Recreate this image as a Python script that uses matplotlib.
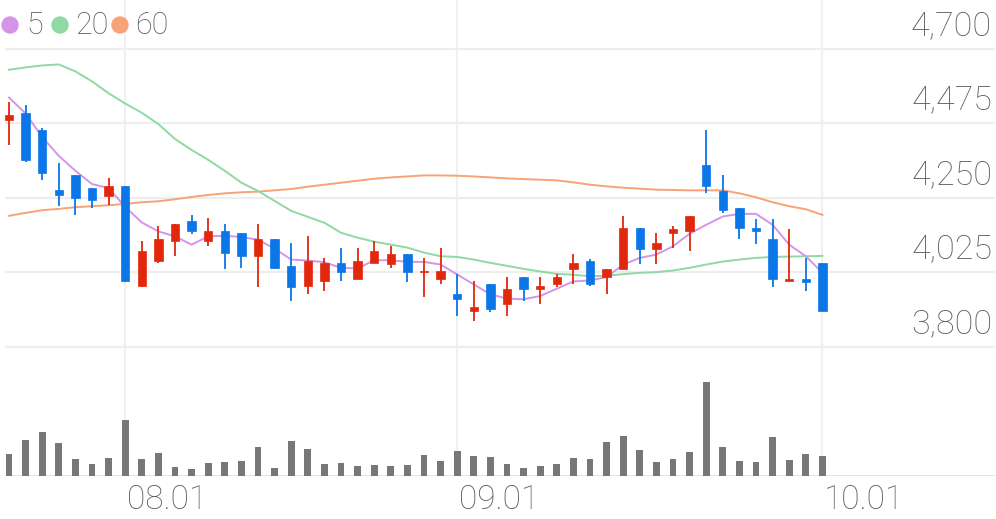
import matplotlib
matplotlib.use("Agg")
import matplotlib.pyplot as plt
from matplotlib.patches import Ellipse
import numpy as np

# ---------------- data ----------------
opens  = [4485, 4505, 4455, 4275, 4320, 4280, 4255, 4285, 3985, 4060,
          4120, 4180, 4120, 4150, 4145, 4075, 4125, 4045, 3985, 4000,
          4055, 4005, 4055, 4050, 4080, 4025, 4005, 3960, 3910, 3990,
          3930, 4010, 3975, 3990, 4035, 4060, 4010, 4035, 4160, 4095,
          4145, 4150, 4350, 4270, 4220, 4160, 4125, 4000, 4005, 4055]
highs  = [4540, 4530, 4460, 4355, 4320, 4280, 4310, 4285, 4120, 4165,
          4170, 4200, 4190, 4170, 4145, 4170, 4125, 4115, 4135, 4070,
          4100, 4100, 4120, 4105, 4080, 4070, 4100, 4020, 4000, 3990,
          4010, 4010, 4010, 4020, 4080, 4065, 4035, 4195, 4160, 4145,
          4165, 4195, 4455, 4320, 4220, 4185, 4185, 4155, 4070, 4055]
lows   = [4410, 4360, 4305, 4225, 4200, 4220, 4230, 3995, 3980, 4055,
          4075, 4140, 4105, 4035, 4040, 3980, 4035, 3940, 3960, 3970,
          4000, 4005, 4055, 4040, 3995, 3950, 3990, 3895, 3880, 3905,
          3895, 3940, 3930, 3980, 3990, 3985, 3960, 4035, 4050, 4050,
          4100, 4090, 4265, 4205, 4125, 4110, 3980, 4000, 3970, 3910]
closes = [4500, 4365, 4325, 4260, 4250, 4245, 4285, 4000, 4090, 4125,
          4170, 4150, 4150, 4085, 4075, 4125, 4040, 3980, 4060, 4055,
          4025, 4060, 4090, 4080, 4025, 4030, 4030, 3945, 3920, 3915,
          3975, 3975, 3985, 4010, 4055, 3990, 4035, 4160, 4095, 4115,
          4155, 4195, 4285, 4215, 4160, 4150, 4005, 4005, 3995, 3910]
volumes = [65, 107, 132, 100, 51, 37, 54, 167, 50, 70,
           26, 21, 39, 42, 44, 87, 24, 106, 81, 35,
           38, 31, 33, 30, 34, 64, 45, 76, 60, 58,
           35, 24, 29, 35, 55, 52, 103, 120, 79, 43,
           50, 72, 281, 87, 44, 42, 117, 49, 66, 60]
ma5  = [4553, 4505, 4434, 4377, 4332, 4292, 4280, 4223, 4176, 4149,
        4134, 4109, 4134, 4136, 4132, 4124, 4097, 4064, 4061, 4056,
        4039, 4037, 4062, 4062, 4057, 4057, 4049, 4019, 3989, 3959,
        3946, 3944, 3954, 3976, 3998, 4001, 4011, 4049, 4069, 4079,
        4104, 4142, 4169, 4194, 4202, 4202, 4169, 4109, 4074, 4024]
ma20 = [4637, 4644, 4650, 4653, 4632, 4602, 4566, 4535, 4507, 4473,
        4428, 4395, 4365, 4332, 4296, 4271, 4241, 4211, 4193, 4175,
        4145, 4130, 4118, 4109, 4100, 4085, 4074, 4072, 4064, 4054,
        4045, 4036, 4028, 4021, 4018, 4014, 4015, 4020, 4024, 4026,
        4031, 4039, 4049, 4058, 4064, 4069, 4072, 4073, 4074, 4075]
ma60 = [4196, 4205, 4213, 4217, 4222, 4225, 4228, 4232, 4237, 4240,
        4246, 4253, 4259, 4264, 4267, 4269, 4273, 4277, 4284, 4290,
        4296, 4302, 4308, 4312, 4315, 4318, 4318, 4317, 4315, 4312,
        4309, 4307, 4305, 4303, 4297, 4290, 4285, 4281, 4278, 4275,
        4274, 4273, 4273, 4273, 4264, 4252, 4237, 4225, 4216, 4199]
price_ticks = [3800, 4025, 4250, 4475, 4700]
date_labels = ["08.01", "09.01", "10.01"]
date_index = [7, 27, 49]
legend_labels = ["5", "20", "60"]

# ---------------- style ----------------
RED = "#e2280c"
BLUE = "#0b76e8"
C5, C20, C60 = "#d495e8", "#8fd9a2", "#f7a377"
GRID = "#eeeeee"
TXT = "#5c5c5c"
FONT = ["Roboto", "DejaVu Sans"]
WEIGHT = "light"

W, H = 996, 519
fig = plt.figure(figsize=(W / 100, H / 100), dpi=100)

def fbox(l, t, r, b):
    return [l / W, 1 - b / H, (r - l) / W, (b - t) / H]

x = np.arange(len(closes))
xmin, xmax = -0.241, -0.241 + 990 / 16.6

# background axes for vertical grid lines
bg = fig.add_axes(fbox(5, 0, 995, 476), zorder=0)
bg.set_xlim(xmin, xmax)
bg.set_ylim(0, 1)
bg.axis("off")
for di in date_index:
    bg.axvline(di, color="#f0f0f0", lw=1.5)

# price axes
pxw = 0.33267  # pixels per won
ax = fig.add_axes(fbox(5, 0, 995, 350), zorder=2)
ax.patch.set_alpha(0)
ax.set_xlim(xmin, xmax)
ax.set_ylim(3800 - 3 / pxw, 3800 + 348.5 / pxw)
for s in ax.spines.values():
    s.set_visible(False)
ax.set_xticks([])
ax.set_yticks([])
for p in price_ticks:
    ax.axhline(p, color=GRID, lw=1.6, zorder=0)
    ax.annotate(f"{p:,}", xy=(1, p), xycoords=("axes fraction", "data"),
                xytext=(-2, 16.5), textcoords="offset points",
                ha="right", va="center", fontsize=24.5, color=TXT,
                family=FONT, fontweight=WEIGHT)

ax.plot(x, ma60, color=C60, lw=1.4, zorder=2)
ax.plot(x, ma20, color=C20, lw=1.4, zorder=2)
ax.plot(x, ma5, color=C5, lw=1.4, zorder=2)

for i in range(len(closes)):
    o, h, l, c = opens[i], highs[i], lows[i], closes[i]
    col = RED if c >= o else BLUE
    ax.vlines(i, l, h, color=col, lw=1.3, zorder=3)
    lo = min(o, c)
    hgt = max(abs(c - o), 5)
    ax.bar(i, hgt, bottom=lo, width=0.5, color=col, edgecolor=col, lw=0.5, zorder=4)

# legend
for lab, col, cx, tx in zip(legend_labels, [C5, C20, C60], [10, 60, 120], [26, 75, 135]):
    fig.add_artist(Ellipse((cx / W, 1 - 25 / H), 16 / W, 16 / H,
                           transform=fig.transFigure, color=col, zorder=5))
    fig.text(tx / W, 1 - 25 / H, lab, fontsize=22, color=TXT, family=FONT,
             fontweight=WEIGHT, ha="left", va="center")

# volume axes
vax = fig.add_axes(fbox(5, 355, 995, 476), zorder=2)
vax.patch.set_alpha(0)
vax.set_xlim(xmin, xmax)
vax.set_ylim(0, 3 * 121)
for s in vax.spines.values():
    s.set_visible(False)
vax.set_xticks([])
vax.set_yticks([])
vax.bar(x, volumes, width=0.42, color="#777777", zorder=3)
vax.axhline(0, color="#e6e6e6", lw=2.2, zorder=2)

# date labels
for lab, di in zip(date_labels, date_index):
    vax.annotate(lab, xy=(di, 0), xycoords="data", xytext=(1, -17),
                 textcoords="offset points", ha="left", va="center",
                 fontsize=24, color=TXT, family=FONT, fontweight=WEIGHT,
                 annotation_clip=False)

fig.savefig("out.png", dpi=100)
